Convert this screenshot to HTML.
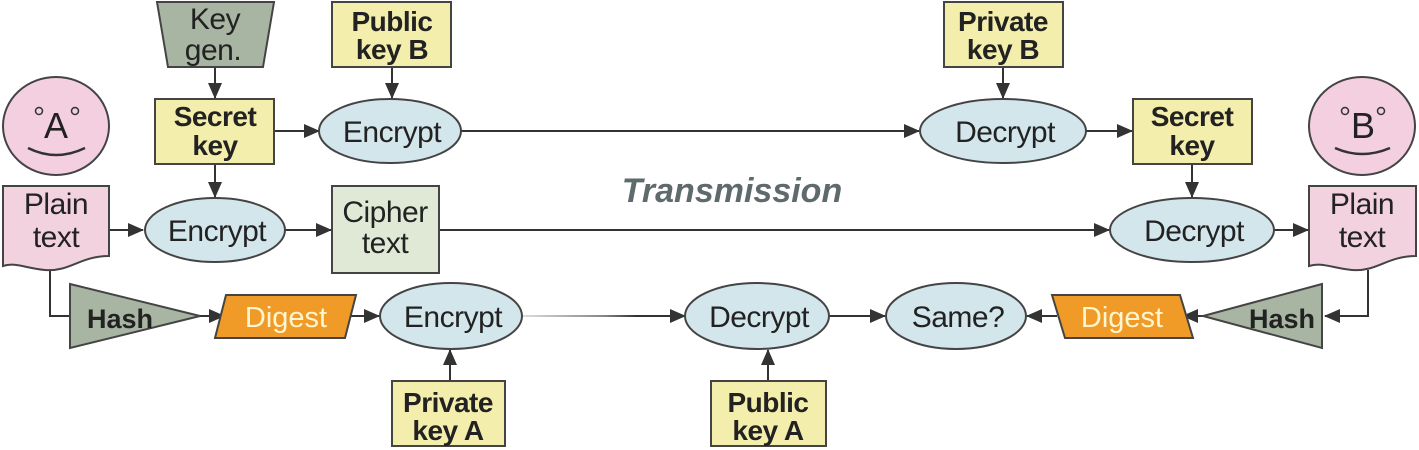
<!DOCTYPE html>
<html><head><meta charset="utf-8"><style>
html,body{margin:0;padding:0;background:#fff;}
svg{display:block;}
text{font-family:"Liberation Sans",Arial,sans-serif;text-anchor:middle;fill:#222;}
.b{font-weight:bold;font-size:28px;letter-spacing:-0.5px;}
.e{font-size:30px;letter-spacing:-0.5px;}
</style></head><body>
<svg width="1419" height="450" viewBox="0 0 1419 450" xmlns="http://www.w3.org/2000/svg">
<defs>
<marker id="a" markerWidth="16" markerHeight="16" refX="15" refY="8" orient="auto" markerUnits="userSpaceOnUse" viewBox="0 0 16 16"><path d="M0,1 L16,8 L0,15 z" fill="#333"/></marker>
<linearGradient id="g" gradientUnits="userSpaceOnUse" x1="522" y1="0" x2="685" y2="0"><stop offset="0" stop-color="#ddd"/><stop offset="0.5" stop-color="#888"/><stop offset="0.7" stop-color="#333"/><stop offset="1" stop-color="#333"/></linearGradient>
</defs>
<g stroke="#333" stroke-width="2" fill="none">
<line x1="215" y1="67" x2="215" y2="98" marker-end="url(#a)"/>
<line x1="392" y1="67" x2="392" y2="98" marker-end="url(#a)"/>
<line x1="215" y1="164" x2="215" y2="197" marker-end="url(#a)"/>
<line x1="274" y1="131" x2="319" y2="131" marker-end="url(#a)"/>
<line x1="461" y1="131" x2="919" y2="131" marker-end="url(#a)"/>
<line x1="1003" y1="67" x2="1003" y2="98" marker-end="url(#a)"/>
<line x1="1086" y1="131" x2="1132" y2="131" marker-end="url(#a)"/>
<line x1="1192" y1="164" x2="1192" y2="197" marker-end="url(#a)"/>
<line x1="109" y1="230" x2="143" y2="230" marker-end="url(#a)"/>
<line x1="285" y1="230" x2="331" y2="230" marker-end="url(#a)"/>
<line x1="439" y1="230" x2="1109" y2="230" marker-end="url(#a)"/>
<line x1="1274" y1="230" x2="1308" y2="230" marker-end="url(#a)"/>
<polyline points="50,270 50,316 86,316" marker-end="url(#a)"/>
<line x1="200" y1="316" x2="224" y2="316" marker-end="url(#a)"/>
<line x1="351" y1="316" x2="379" y2="316" marker-end="url(#a)"/>
<line x1="522" y1="316" x2="685" y2="316" stroke="url(#g)" marker-end="url(#a)"/>
<line x1="829" y1="316" x2="885" y2="316" marker-end="url(#a)"/>
<line x1="1057" y1="316" x2="1027" y2="316" marker-end="url(#a)"/>
<line x1="1203" y1="316" x2="1183" y2="316" marker-end="url(#a)"/>
<polyline points="1368,270 1368,316 1325,316" marker-end="url(#a)"/>
<line x1="450" y1="381" x2="450" y2="350" marker-end="url(#a)"/>
<line x1="768" y1="381" x2="768" y2="350" marker-end="url(#a)"/>
</g>
<g stroke="#444" stroke-width="2">
<polygon points="157,2 274,2 263,67 168,67" fill="#a8b5a2"/>
<rect x="332" y="2" width="119" height="65" fill="#f3eeab"/>
<rect x="944" y="2" width="119" height="65" fill="#f3eeab"/>
<rect x="155" y="99" width="119" height="65" fill="#f3eeab"/>
<rect x="1133" y="99" width="119" height="65" fill="#f3eeab"/>
<rect x="392" y="381" width="113" height="65" fill="#f3eeab"/>
<rect x="711" y="381" width="115" height="65" fill="#f3eeab"/>
<rect x="332" y="186" width="107" height="87" fill="#dfe9d5"/>
<ellipse cx="56" cy="126" rx="53" ry="49" fill="#f3cfe0"/>
<ellipse cx="1362" cy="126" rx="53" ry="49" fill="#f3cfe0"/>
<path d="M3,186 H109 V256 C80,256 70,272 45,270 C25,268 15,262 3,266 Z" fill="#f3d2e0"/>
<path d="M1309,186 H1416 V256 C1387,256 1377,272 1352,270 C1332,268 1322,262 1309,266 Z" fill="#f3d2e0"/>
<ellipse cx="390" cy="131" rx="71" ry="32" fill="#d3e6ec"/>
<ellipse cx="1003" cy="131" rx="83" ry="32" fill="#d3e6ec"/>
<ellipse cx="215" cy="230" rx="70" ry="32" fill="#d3e6ec"/>
<ellipse cx="1192" cy="230" rx="82" ry="32" fill="#d3e6ec"/>
<ellipse cx="451" cy="316" rx="71" ry="33" fill="#d3e6ec"/>
<ellipse cx="757" cy="316" rx="72" ry="33" fill="#d3e6ec"/>
<ellipse cx="956" cy="316" rx="70" ry="33" fill="#d3e6ec"/>
<polygon points="70,284 200,316 70,348" fill="#a8b5a2"/>
<polygon points="1322,284 1203,316 1322,348" fill="#a8b5a2"/>
<polygon points="226,295 356,295 345,338 215,338" fill="#f09a28"/>
<polygon points="1052,295 1180,295 1193,338 1065,338" fill="#f09a28"/>
</g>
<path d="M28,148 Q56,162 85,148" stroke="#333" stroke-width="2.5" fill="none"/>
<path d="M1335,148 Q1362,160 1390,148" stroke="#333" stroke-width="2.5" fill="none"/>
<circle cx="39" cy="111" r="3.5" fill="none" stroke="#333" stroke-width="1.5"/>
<circle cx="75" cy="111" r="3.5" fill="none" stroke="#333" stroke-width="1.5"/>
<circle cx="1345" cy="111" r="3.5" fill="none" stroke="#333" stroke-width="1.5"/>
<circle cx="1381" cy="111" r="3.5" fill="none" stroke="#333" stroke-width="1.5"/>
<text x="56" y="138" font-size="36">A</text>
<text x="1363" y="138" font-size="36">B</text>
<text class="e" x="215" y="29">Key</text><text class="e" x="213" y="60">gen.</text>
<text class="b" x="392" y="31">Public</text><text class="b" x="392" y="59">key B</text>
<text class="b" x="1003" y="31">Private</text><text class="b" x="1003" y="59">key B</text>
<text class="b" x="215" y="126">Secret</text><text class="b" x="215" y="155">key</text>
<text class="b" x="1192" y="126">Secret</text><text class="b" x="1192" y="155">key</text>
<text class="b" x="448" y="412">Private</text><text class="b" x="448" y="440">key A</text>
<text class="b" x="768" y="412">Public</text><text class="b" x="768" y="440">key A</text>
<text class="e" x="56" y="214">Plain</text><text class="e" x="56" y="247">text</text>
<text class="e" x="1362" y="214">Plain</text><text class="e" x="1362" y="247">text</text>
<text class="e" x="385" y="222">Cipher</text><text class="e" x="385" y="253">text</text>
<text class="e" x="392" y="142">Encrypt</text>
<text class="e" x="1005" y="142">Decrypt</text>
<text class="e" x="217" y="241">Encrypt</text>
<text class="e" x="1194" y="241">Decrypt</text>
<text class="e" x="453" y="327">Encrypt</text>
<text class="e" x="759" y="327">Decrypt</text>
<text class="e" x="958" y="327">Same?</text>
<text x="120" y="328" font-size="27" font-weight="bold">Hash</text>
<text x="1282" y="328" font-size="27" font-weight="bold">Hash</text>
<text x="286" y="327" font-size="29" style="fill:#fff5d0">Digest</text>
<text x="1122" y="327" font-size="29" style="fill:#fff5d0">Digest</text>
<text x="732" y="202" font-size="34" font-weight="bold" font-style="italic" style="fill:#5f6a6c">Transmission</text>
</svg>
</body></html>
